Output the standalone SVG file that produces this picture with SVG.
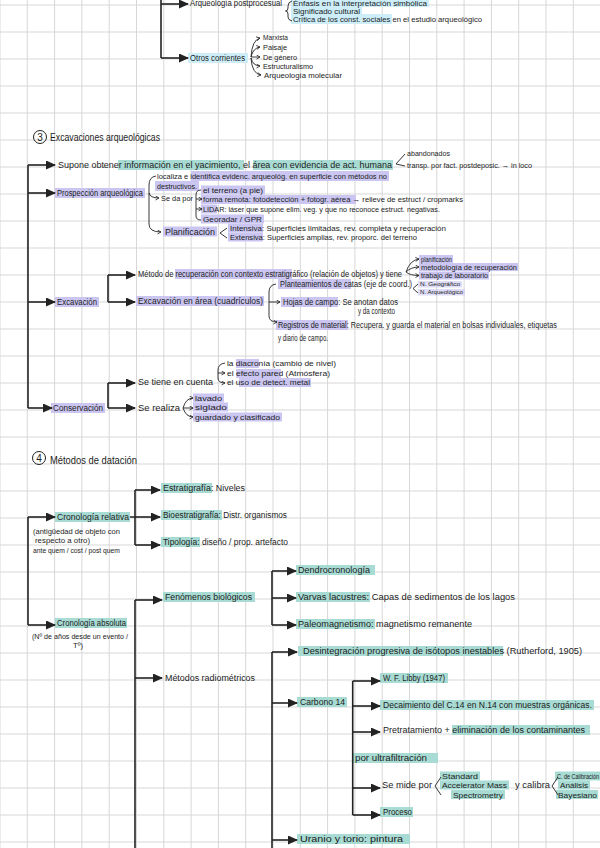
<svg xmlns="http://www.w3.org/2000/svg" width="600" height="848" viewBox="0 0 600 848">
<defs>
<pattern id="grid" width="27.3" height="27" patternUnits="userSpaceOnUse" x="-0.5" y="4.5">
<path d="M0.5,0 V27 M0,0.5 H27.3" fill="none" stroke="#d6d6d6" stroke-width="1"/>
</pattern>
<marker id="a" markerWidth="10" markerHeight="9" refX="9" refY="4.5" orient="auto" markerUnits="userSpaceOnUse"><path d="M0,0 L10,4.5 L0,9 z" fill="#222"/></marker>
<marker id="s" markerWidth="5" markerHeight="5" refX="4" refY="2.5" orient="auto" markerUnits="userSpaceOnUse"><path d="M0.5,0.5 L4,2.5 L0.5,4.5" fill="none" stroke="#222" stroke-width="0.8"/></marker>
<style>
text{font-family:"Liberation Sans","DejaVu Sans",sans-serif;font-size:8.5px;fill:#1c1c1c}
.hd{font-size:10px}
.sm{font-size:7.5px}
.xs{font-size:5.5px}
.ln{fill:none;stroke:#222;stroke-width:1.6}
.ar{fill:none;stroke:#222;stroke-width:1.6;marker-end:url(#a)}
.br{fill:none;stroke:#222;stroke-width:0.9}
.bs{fill:none;stroke:#222;stroke-width:0.9;marker-end:url(#s)}
.ht{fill:#a8dbd3}
.hp{fill:#cac6f1}
.hb{fill:#cdeef9}
</style>
</defs>
<rect width="600" height="848" fill="#ffffff"/>
<rect width="600" height="848" fill="url(#grid)"/>

<g id="highlights">
<rect class="hb" x="291" y="-3" width="138" height="10"/>
<rect class="hb" x="291" y="5" width="71" height="10"/>
<rect class="hb" x="291" y="14" width="101" height="10"/>
<rect class="hb" x="188" y="53" width="60" height="10"/>
<rect class="ht" x="118" y="160" width="126" height="10"/>
<rect class="ht" x="253" y="160" width="140" height="10"/>
<rect class="hp" x="191" y="171" width="198" height="10"/>
<rect class="hp" x="155" y="181" width="44" height="10"/>
<rect class="hp" x="55" y="188" width="90" height="10"/>
<rect class="hp" x="201" y="185.5" width="64" height="9"/>
<rect class="hp" x="201" y="195" width="155" height="9"/>
<rect class="hp" x="201" y="204.5" width="16" height="9"/>
<rect class="hp" x="201" y="214.5" width="63" height="9"/>
<rect class="hp" x="163" y="226.5" width="54" height="10"/>
<rect class="hp" x="228" y="223.5" width="35" height="9"/>
<rect class="hp" x="228" y="232.5" width="35" height="9"/>
<rect class="hp" x="55" y="297" width="44" height="10"/>
<rect class="hp" x="175" y="269" width="117" height="10"/>
<rect class="hp" x="419" y="255" width="34" height="8"/>
<rect class="hp" x="419" y="263" width="99" height="8"/>
<rect class="hp" x="419" y="271.5" width="70" height="8"/>
<rect class="hp" x="136" y="296" width="128" height="10"/>
<rect class="hp" x="278" y="279" width="73" height="10"/>
<rect class="hp" x="418" y="281" width="44" height="6.5" opacity="0.6"/>
<rect class="hp" x="418" y="289" width="47" height="6.5" opacity="0.6"/>
<rect class="hp" x="281" y="297" width="57" height="10"/>
<rect class="hp" x="276" y="320" width="72" height="10"/>
<rect class="hp" x="51" y="403" width="54" height="10"/>
<rect class="hp" x="236" y="359" width="23" height="9"/>
<rect class="hp" x="236" y="369" width="45" height="9"/>
<rect class="hp" x="239" y="378" width="72" height="9"/>
<rect class="hp" x="193" y="393.5" width="31" height="9"/>
<rect class="hp" x="193" y="402.5" width="35" height="9"/>
<rect class="hp" x="193" y="412.5" width="89" height="9"/>
<rect class="ht" x="55" y="512" width="75" height="10"/>
<rect class="ht" x="161" y="483" width="51" height="10"/>
<rect class="ht" x="161" y="510" width="61" height="10"/>
<rect class="ht" x="161" y="537" width="39" height="10"/>
<rect class="ht" x="55" y="618" width="72" height="10"/>
<rect class="ht" x="163" y="592" width="92" height="10"/>
<rect class="ht" x="296" y="565" width="79" height="10"/>
<rect class="ht" x="296" y="592" width="74" height="10"/>
<rect class="ht" x="296" y="619" width="79" height="10"/>
<rect class="ht" x="298" y="646" width="205" height="10"/>
<rect class="ht" x="297" y="697" width="50" height="10"/>
<rect class="ht" x="380" y="673" width="68" height="10"/>
<rect class="ht" x="380" y="700" width="214" height="10"/>
<rect class="ht" x="452" y="725" width="138" height="10"/>
<rect class="ht" x="353" y="753" width="85" height="10"/>
<rect class="ht" x="440" y="771.5" width="40" height="9"/>
<rect class="ht" x="440" y="780.5" width="69" height="9"/>
<rect class="ht" x="451" y="790" width="54" height="9"/>
<rect class="ht" x="555" y="771.5" width="47" height="9"/>
<rect class="ht" x="558" y="780.5" width="32" height="9"/>
<rect class="ht" x="556" y="790" width="42" height="9"/>
<rect class="ht" x="380" y="807" width="33" height="10"/>
<rect class="ht" x="297" y="834" width="113" height="10"/>
</g>

<g id="connectors">
<path class="ln" d="M161,0 V58"/>
<line class="ar" x1="161" y1="4" x2="188" y2="4"/>
<line class="ar" x1="161" y1="58" x2="188" y2="58"/>
<path class="br" d="M292,1 Q288,2 288,6 V8 Q288,11 285.5,11 Q288,11 288,14 V17 Q288,20 292,21"/>
<path class="bs" d="M251,57 Q252,40 260,38"/>
<path class="bs" d="M251,57 Q253,48 260,47"/>
<path class="bs" d="M251,57 Q255,57 260,57"/>
<path class="bs" d="M251,58 Q253,66 260,66"/>
<path class="bs" d="M251,58 Q252,74 261,75"/>

<path class="ln" d="M28,165 V408"/>
<line class="ar" x1="28" y1="165" x2="55" y2="165"/>
<line class="ar" x1="28" y1="193" x2="55" y2="193"/>
<line class="ar" x1="28" y1="302" x2="55" y2="302"/>
<line class="ar" x1="28" y1="408" x2="52" y2="408"/>
<path class="br" d="M405,154 L396,164 L405,166"/>
<path class="bs" d="M156,176 Q149,177 149,185 V224 Q149,232 161,232"/>
<path class="bs" d="M149,193 Q150,198 159,198"/>
<path class="br" d="M201,190 Q196,190 196,195 V216 Q196,220 201,220"/>
<path class="bs" d="M196,199 L202,199"/>
<path class="bs" d="M196,209 L202,209"/>
<path class="br" d="M227,228 L220,233 L227,238"/>
<path class="ln" d="M108,275 V302"/>
<line class="ar" x1="108" y1="275" x2="135" y2="275"/>
<line class="ar" x1="108" y1="302" x2="135" y2="302"/>
<path class="bs" d="M406,272 Q410,260 419,259"/>
<path class="bs" d="M406,272 Q411,267 419,267"/>
<path class="bs" d="M406,272 Q410,275.5 419,275.5"/>
<path class="bs" d="M276,284 Q269,285 269,292 V316 Q269,322 277,322"/>
<path class="bs" d="M269,302 L280,302"/>
<path class="br" d="M418,284 L413,288.5 L418,293"/>
<path class="ln" d="M108,383 V408"/>
<line class="ar" x1="108" y1="383" x2="135" y2="383"/>
<line class="ar" x1="108" y1="408" x2="135" y2="408"/>
<path class="bs" d="M225,363 Q218,364 218,370 V378 Q218,383 225,383"/>
<path class="bs" d="M218,373 L225,373"/>
<path class="bs" d="M183,408 Q186,398 193,398"/>
<path class="bs" d="M183,408 L193,408"/>
<path class="bs" d="M183,408 Q186,417 193,417"/>

<path class="ln" d="M28,517 V625"/>
<line class="ar" x1="28" y1="517" x2="55" y2="517"/>
<line class="ar" x1="28" y1="625" x2="55" y2="625"/>
<path class="ln" d="M130,517 H135 M135,490 V545"/>
<line class="ar" x1="135" y1="490" x2="160" y2="490"/>
<line class="ar" x1="135" y1="517" x2="160" y2="517"/>
<line class="ar" x1="135" y1="545" x2="160" y2="545"/>
<path class="ln" d="M135,600 V848"/>
<line class="ar" x1="135" y1="600" x2="162" y2="600"/>
<line class="ar" x1="135" y1="678" x2="162" y2="678"/>
<path class="ln" d="M272,571 V625"/>
<line class="ar" x1="272" y1="571" x2="296" y2="571"/>
<line class="ar" x1="272" y1="598" x2="296" y2="598"/>
<line class="ar" x1="272" y1="625" x2="296" y2="625"/>
<path class="ln" d="M272,652 V848"/>
<line class="ar" x1="272" y1="652" x2="297" y2="652"/>
<line class="ar" x1="272" y1="703" x2="297" y2="703"/>
<line class="ar" x1="272" y1="840" x2="297" y2="840"/>
<path class="ln" d="M352.7,681 V815"/>
<line class="ar" x1="352.7" y1="681" x2="380" y2="681"/>
<line class="ar" x1="352.7" y1="706" x2="380" y2="706"/>
<line class="ar" x1="352.7" y1="732" x2="380" y2="732"/>
<line class="ar" x1="352.7" y1="788" x2="380" y2="788"/>
<line class="ar" x1="352.7" y1="815" x2="380" y2="815"/>
<path class="br" d="M441,777 L435,786 L441,795"/>
<path class="br" d="M558,777 L552,786 L558,795"/>
</g>

<g id="n-postprocesual">
<text x="190" y="6" textLength="92" lengthAdjust="spacingAndGlyphs">Arqueología postprocesual</text>
<text x="293" y="5.5" class="sm" textLength="134" lengthAdjust="spacingAndGlyphs">Énfasis en la interpretación simbólica</text>
<text x="293" y="13.5" class="sm" textLength="67" lengthAdjust="spacingAndGlyphs">Significado cultural</text>
<text x="293" y="22" class="sm" textLength="189" lengthAdjust="spacingAndGlyphs">Crítica de los const. sociales en el estudio arqueológico</text>
</g>
<g id="n-otros">
<text x="190" y="61" textLength="55" lengthAdjust="spacingAndGlyphs">Otros corrientes</text>
<text x="263" y="40" class="sm" textLength="25" lengthAdjust="spacingAndGlyphs">Marxista</text>
<text x="263" y="50" class="sm" textLength="24" lengthAdjust="spacingAndGlyphs">Paisaje</text>
<text x="263" y="60" class="sm" textLength="34" lengthAdjust="spacingAndGlyphs">De género</text>
<text x="263" y="69" class="sm" textLength="50" lengthAdjust="spacingAndGlyphs">Estructuralismo</text>
<text x="264" y="78" class="sm" textLength="78" lengthAdjust="spacingAndGlyphs">Arqueología molecular</text>
</g>

<g id="h-excavaciones">
<circle cx="40" cy="137" r="6.5" fill="none" stroke="#222" stroke-width="1"/>
<text x="40" y="140.5" text-anchor="middle" class="hd">3</text>
<text x="50" y="141" class="hd" textLength="110" lengthAdjust="spacingAndGlyphs">Excavaciones arqueológicas</text>
</g>
<g id="n-supone">
<text x="58" y="168" textLength="334" lengthAdjust="spacingAndGlyphs">Supone obtener información en el yacimiento, el área con evidencia de act. humana</text>
<text x="407" y="156" class="sm" textLength="43" lengthAdjust="spacingAndGlyphs">abandonados</text>
<text x="407" y="168" class="sm" textLength="125" lengthAdjust="spacingAndGlyphs">transp. por fact. postdeposic. → in loco</text>
</g>
<g id="n-prospeccion">
<text x="57" y="196" textLength="86" lengthAdjust="spacingAndGlyphs">Prospección arqueológica</text>
<text x="157" y="179" class="sm" textLength="230" lengthAdjust="spacingAndGlyphs">localiza e identifica evidenc. arqueológ. en superficie con métodos no</text>
<text x="157" y="189" class="sm" textLength="40" lengthAdjust="spacingAndGlyphs">destructivos.</text>
<text x="161" y="201" class="sm" textLength="32" lengthAdjust="spacingAndGlyphs">Se da por</text>
<text x="203" y="193" class="sm" textLength="60" lengthAdjust="spacingAndGlyphs">el terreno (a pie)</text>
<text x="203" y="202" class="sm" textLength="260" lengthAdjust="spacingAndGlyphs">forma remota: fotodetección + fotogr. aérea → relieve de estruct / cropmarks</text>
<text x="203" y="212" class="sm" textLength="237" lengthAdjust="spacingAndGlyphs">LIDAR: láser que supone elim. veg. y que no reconoce estruct. negativas.</text>
<text x="203" y="222" class="sm" textLength="59" lengthAdjust="spacingAndGlyphs">Georadar / GPR</text>
<text x="165" y="235" textLength="50" lengthAdjust="spacingAndGlyphs">Planificación</text>
<text x="230" y="231" class="sm" textLength="216" lengthAdjust="spacingAndGlyphs">Intensiva: Superficies limitadas, rev. completa y recuperación</text>
<text x="230" y="240" class="sm" textLength="187" lengthAdjust="spacingAndGlyphs">Extensiva: Superficies amplias, rev. proporc. del terreno</text>
</g>
<g id="n-excavacion">
<text x="57" y="305" textLength="40" lengthAdjust="spacingAndGlyphs">Excavación</text>
<text x="138" y="277" textLength="264" lengthAdjust="spacingAndGlyphs">Método de recuperación con contexto estratigráfico (relación de objetos) y tiene</text>
<text x="421" y="261.5" class="sm" textLength="31" lengthAdjust="spacingAndGlyphs">planificación</text>
<text x="421" y="269.5" class="sm" textLength="96" lengthAdjust="spacingAndGlyphs">metodología de recuperación</text>
<text x="421" y="278" class="sm" textLength="67" lengthAdjust="spacingAndGlyphs">trabajo de laboratorio</text>
<text x="138" y="304" textLength="125" lengthAdjust="spacingAndGlyphs">Excavación en área (cuadrículos)</text>
<text x="280" y="287" textLength="132" lengthAdjust="spacingAndGlyphs">Planteamientos de catas (eje de coord.)</text>
<text x="420" y="286" class="xs" textLength="40" lengthAdjust="spacingAndGlyphs">N. Geográfico</text>
<text x="420" y="294" class="xs" textLength="43" lengthAdjust="spacingAndGlyphs">N. Arqueológico</text>
<text x="283" y="305" textLength="115" lengthAdjust="spacingAndGlyphs">Hojas de campo: Se anotan datos</text>
<text x="358" y="314" textLength="37" lengthAdjust="spacingAndGlyphs">y da contexto</text>
<text x="278" y="328" textLength="279" lengthAdjust="spacingAndGlyphs">Registros de material: Recupera. y guarda el material en bolsas individuales, etiquetas</text>
<text x="278" y="341" textLength="50" lengthAdjust="spacingAndGlyphs">y diario de campo.</text>
</g>
<g id="n-conservacion">
<text x="53" y="411" textLength="50" lengthAdjust="spacingAndGlyphs">Conservación</text>
<text x="138" y="385" textLength="75" lengthAdjust="spacingAndGlyphs">Se tiene en cuenta</text>
<text x="227" y="366" class="sm" textLength="109" lengthAdjust="spacingAndGlyphs">la diacronía (cambio de nivel)</text>
<text x="227" y="376" class="sm" textLength="103" lengthAdjust="spacingAndGlyphs">el efecto pared (Atmósfera)</text>
<text x="227" y="385" class="sm" textLength="83" lengthAdjust="spacingAndGlyphs">el uso de detect. metal</text>
<text x="138" y="411" textLength="42" lengthAdjust="spacingAndGlyphs">Se realiza</text>
<text x="195" y="401" class="sm" textLength="27" lengthAdjust="spacingAndGlyphs">lavado</text>
<text x="195" y="410" class="sm" textLength="32" lengthAdjust="spacingAndGlyphs">siglado</text>
<text x="195" y="420" class="sm" textLength="85" lengthAdjust="spacingAndGlyphs">guardado y clasificado</text>
</g>

<g id="h-datacion">
<circle cx="39" cy="458" r="6.5" fill="none" stroke="#222" stroke-width="1"/>
<text x="39" y="461.5" text-anchor="middle" class="hd">4</text>
<text x="50" y="464" class="hd" textLength="87" lengthAdjust="spacingAndGlyphs">Métodos de datación</text>
</g>
<g id="n-relativa">
<text x="57" y="520" textLength="72" lengthAdjust="spacingAndGlyphs">Cronología relativa</text>
<text x="33" y="534" class="sm" textLength="87" lengthAdjust="spacingAndGlyphs">(antigüedad de objeto con</text>
<text x="35" y="543" class="sm" textLength="55" lengthAdjust="spacingAndGlyphs">respecto a otro)</text>
<text x="33" y="553" class="sm" textLength="87" lengthAdjust="spacingAndGlyphs">ante quem / cost / post quem</text>
<text x="163" y="491" textLength="82" lengthAdjust="spacingAndGlyphs">Estratigrafía: Niveles</text>
<text x="163" y="518" textLength="124" lengthAdjust="spacingAndGlyphs">Bioestratigrafía: Distr. organismos</text>
<text x="163" y="545" textLength="125" lengthAdjust="spacingAndGlyphs">Tipología: diseño / prop. artefacto</text>
</g>
<g id="n-absoluta">
<text x="57" y="626" textLength="69" lengthAdjust="spacingAndGlyphs">Cronología absoluta</text>
<text x="32" y="639" class="sm" textLength="96" lengthAdjust="spacingAndGlyphs">(Nº de años desde un evento /</text>
<text x="73" y="648" class="sm" textLength="10" lengthAdjust="spacingAndGlyphs">Tº)</text>
</g>
<g id="n-biologicos">
<text x="165" y="600" textLength="87" lengthAdjust="spacingAndGlyphs">Fenómenos biológicos</text>
<text x="298" y="573" textLength="72" lengthAdjust="spacingAndGlyphs">Dendrocronología</text>
<text x="298" y="600" textLength="217" lengthAdjust="spacingAndGlyphs">Varvas lacustres: Capas de sedimentos de los lagos</text>
<text x="298" y="627" textLength="174" lengthAdjust="spacingAndGlyphs">Paleomagnetismo: magnetismo remanente</text>
</g>
<g id="n-radiometricos">
<text x="165" y="681" textLength="90" lengthAdjust="spacingAndGlyphs">Métodos radiométricos</text>
<text x="303" y="654" textLength="279" lengthAdjust="spacingAndGlyphs">Desintegración progresiva de isótopos inestables (Rutherford, 1905)</text>
<text x="300" y="842" textLength="103" lengthAdjust="spacingAndGlyphs">Uranio y torio: pintura</text>
</g>
<g id="n-carbono">
<text x="300" y="705" textLength="45" lengthAdjust="spacingAndGlyphs">Carbono 14</text>
<text x="383" y="681" textLength="62" lengthAdjust="spacingAndGlyphs">W. F. Libby (1947)</text>
<text x="383" y="708" textLength="209" lengthAdjust="spacingAndGlyphs">Decaimiento del C.14 en N.14 con muestras orgánicas.</text>
<text x="383" y="733" textLength="202" lengthAdjust="spacingAndGlyphs">Pretratamiento + eliminación de los contaminantes</text>
<text x="355" y="761" textLength="72" lengthAdjust="spacingAndGlyphs">por ultrafiltración</text>
<text x="382" y="788" textLength="50" lengthAdjust="spacingAndGlyphs">Se mide por</text>
<text x="442" y="779" class="sm" textLength="36" lengthAdjust="spacingAndGlyphs">Standard</text>
<text x="442" y="788" class="sm" textLength="65" lengthAdjust="spacingAndGlyphs">Accelerator Mass</text>
<text x="453" y="798" class="sm" textLength="50" lengthAdjust="spacingAndGlyphs">Spectrometry</text>
<text x="515" y="788" textLength="35" lengthAdjust="spacingAndGlyphs">y calibra</text>
<text x="557" y="779" class="sm" textLength="42" lengthAdjust="spacingAndGlyphs">C. de Calibración</text>
<text x="560" y="788" class="sm" textLength="28" lengthAdjust="spacingAndGlyphs">Análisis</text>
<text x="558" y="798" class="sm" textLength="39" lengthAdjust="spacingAndGlyphs">Bayesiano</text>
<text x="383" y="815" textLength="29" lengthAdjust="spacingAndGlyphs">Proceso</text>
</g>
</svg>
